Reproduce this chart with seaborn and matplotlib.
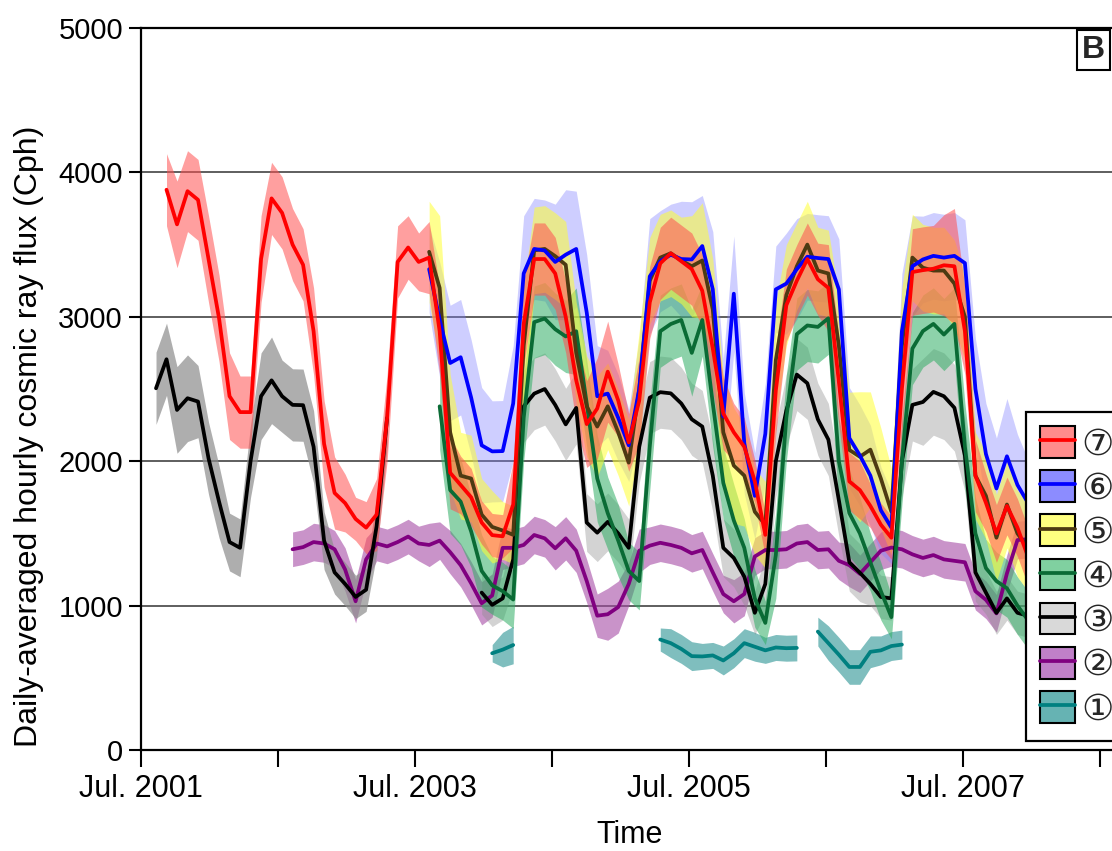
import numpy as np
import pandas as pd
import matplotlib
matplotlib.use("Agg")
import matplotlib.pyplot as plt
import matplotlib.dates as mdates
from matplotlib.patches import Patch
from matplotlib.lines import Line2D
from matplotlib.ticker import FuncFormatter
import seaborn as sns

# ---------------- data (4-weekly samples) ----------------
GRID_START = "2001-08-10"
STEP_DAYS = 28

# series 7 (red)
s7_start = 1
s7_vals = [3880, 3640, 3870, 3810, 3400, 2990, 2450, 2340, 2340, 3400,
           3820, 3720, 3500, 3360, 2900, 2120, 1780, 1710, 1600, 1540,
           1630, 2300, 3380, 3480, 3380, 3410, 2900, 1920, 1835, 1750,
           1575, 1488, 1480, 1700, 2950, 3400, 3400, 3300, 3000, 2560,
           2257, 2365, 2620, 2420, 2130, 2420, 3100, 3370, 3440, 3385,
           3330, 3180, 2780, 2330, 2200, 2100, 1860, 1490, 2490, 3080,
           3250, 3400, 3260, 3200, 2550, 1860, 1800, 1690, 1560, 1470,
           2500, 3310, 3323, 3333, 3357, 3350, 2900, 1900, 1712, 1500,
           1690, 1540, 1340, 1200]
s7_spread = [250, 300, 280, 280, 300, 300, 300, 250, 250, 300,
             250, 250, 250, 250, 300, 300, 250, 200, 150, 180,
             250, 300, 250, 220, 200, 250, 300, 250, 200, 200,
             150, 150, 150, 300, 300, 250, 250, 250, 250, 300,
             300, 350, 350, 250, 200, 300, 250, 250, 250, 250,
             250, 250, 300, 250, 200, 200, 150, 150, 300, 250,
             250, 250, 250, 300, 300, 200, 200, 150, 150, 150,
             300, 300, 300, 300, 350, 400, 300, 250, 200, 200,
             200, 200, 200, 200]

# series 6 (blue)
s6_start = 26
s6_vals = [3330, 2980, 2680, 2720, 2440, 2110, 2068, 2070, 2400, 3300,
           3470, 3459, 3380, 3430, 3470, 3030, 2450, 2468, 2300, 2110,
           2500, 3280, 3385, 3430, 3400, 3397, 3490, 3190, 2310, 3160,
           2124, 1760, 2190, 3190, 3230, 3330, 3416, 3407, 3400, 3190,
           2160, 2040, 1900, 1660, 1540, 2900, 3350, 3397, 3422, 3410,
           3422, 3372, 2500, 2050, 1811, 2034, 1836, 1712, 1680]
s6_spread = [300, 400, 400, 400, 400, 400, 350, 350, 400, 400,
             350, 350, 400, 450, 400, 400, 350, 300, 300, 250,
             350, 400, 350, 350, 400, 400, 350, 400, 400, 400,
             350, 300, 350, 300, 350, 350, 300, 300, 300, 350,
             350, 350, 350, 300, 250, 400, 350, 300, 300, 300,
             300, 300, 350, 350, 350, 400, 350, 300, 300]

# series 5 (yellow band, brown line)
s5_start = 26
s5_vals = [3450, 3200, 2200, 1900, 1880, 1630, 1545, 1520, 1490, 2800,
           3460, 3470, 3420, 3360, 2750, 2380, 2240, 2380, 2200, 1990,
           2500, 3250, 3410, 3440, 3390, 3350, 3390, 3050, 2200, 1970,
           1900, 1650, 1560, 2700, 3150, 3350, 3500, 3320, 3300, 2800,
           2078, 2031, 2080, 1880, 1650, 2800, 3410, 3340, 3320, 3320,
           3230, 3000, 1900, 1760, 1470, 1700, 1500, 1400, 1300]
s5_spread = [350, 500, 400, 300, 300, 250, 250, 200, 200, 400,
             300, 300, 300, 300, 350, 350, 350, 300, 300, 300,
             400, 300, 300, 300, 300, 350, 400, 350, 400, 400,
             350, 300, 300, 400, 350, 300, 300, 300, 300, 350,
             400, 450, 400, 350, 300, 400, 300, 300, 300, 300,
             300, 300, 300, 300, 300, 300, 300, 300, 300]

# series 4 (green)
s4_start = 27
s4_vals = [2380, 1800, 1720, 1513, 1240, 1140, 1100, 1042, 2300, 2963,
           2988, 2914, 2864, 2900, 2400, 1880, 1640, 1450, 1240, 1170,
           2100, 2900, 2950, 2978, 2750, 2978, 2400, 1850, 1590, 1400,
           1050, 880, 1350, 2300, 2880, 2940, 2930, 2990, 2000, 1640,
           1500, 1300, 1100, 920, 2000, 2780, 2901, 2951, 2877, 2951,
           2100, 1500, 1260, 1170, 1120, 1000, 900, 850]
s4_spread = [300, 300, 300, 250, 250, 200, 200, 200, 300, 250,
             250, 250, 250, 300, 300, 300, 250, 250, 200, 200,
             300, 250, 250, 250, 300, 250, 300, 250, 250, 200,
             200, 150, 300, 300, 250, 250, 250, 250, 300, 300,
             250, 200, 200, 150, 300, 250, 250, 250, 250, 250,
             300, 250, 200, 200, 200, 200, 200, 200]

# series 3 (black), two segments
s3a_start = 0
s3a_vals = [2505, 2706, 2355, 2436, 2413, 2020, 1720, 1440, 1400, 2000,
            2450, 2560, 2450, 2390, 2388, 2100, 1450, 1230, 1150, 1060,
            1110, 1550, 2300]
s3a_spread = [250, 250, 300, 300, 250, 250, 250, 200, 200, 250,
              300, 300, 250, 250, 250, 250, 200, 150, 150, 150,
              150, 200, 200]
s3b_start = 31
s3b_vals = [1090, 1005, 1050, 1320, 2380, 2468, 2500, 2390, 2255, 2369,
            1575, 1505, 1580, 1500, 1400, 2100, 2440, 2478, 2470, 2400,
            2290, 2240, 1900, 1400, 1330, 1200, 950, 1150, 2000, 2350,
            2600, 2540, 2290, 2150, 1730, 1300, 1228, 1150, 1060, 1050,
            2000, 2390, 2410, 2480, 2450, 2370, 2040, 1230, 1090, 950,
            1050, 950, 930, 930]
s3b_spread = [150, 150, 150, 200, 250, 250, 250, 250, 250, 250,
              200, 200, 200, 200, 200, 250, 250, 250, 250, 250,
              250, 250, 250, 200, 200, 200, 150, 200, 250, 250,
              250, 250, 250, 250, 250, 200, 200, 150, 150, 150,
              250, 250, 300, 300, 300, 300, 250, 200, 150, 150,
              150, 150, 150, 150]

# series 2 (purple)
s2_start = 13
s2_vals = [1390, 1405, 1440, 1430, 1390, 1250, 1030, 1320, 1430, 1410,
           1440, 1478, 1430, 1420, 1450, 1370, 1280, 1154, 1016, 1070,
           1400, 1400, 1420, 1489, 1466, 1397, 1466, 1380, 1170, 930,
           940, 990, 1150, 1380, 1415, 1435, 1420, 1400, 1362, 1385,
           1230, 1080, 1030, 1080, 1340, 1385, 1385, 1390, 1430, 1440,
           1385, 1390, 1310, 1280, 1220, 1300, 1380, 1402, 1390, 1355,
           1330, 1350, 1320, 1310, 1300, 1100, 1040, 946, 1223, 1454,
           1460, 1400]
s2_spread = [120, 120, 130, 130, 130, 150, 150, 150, 120, 120,
             120, 120, 120, 150, 130, 150, 150, 150, 150, 150,
             150, 130, 130, 130, 130, 150, 150, 150, 150, 150,
             180, 180, 150, 150, 130, 130, 130, 130, 130, 130,
             130, 130, 150, 150, 130, 130, 130, 130, 130, 130,
             130, 130, 130, 150, 130, 130, 130, 130, 130, 130,
             130, 130, 130, 130, 130, 130, 130, 130, 130, 130,
             130, 130]

# series 1 (teal), three segments
s1a_start = 32
s1a_vals = [670, 695, 727]
s1a_spread = [60, 120, 130]
s1b_start = 48
s1b_vals = [765, 740, 700, 650, 648, 655, 620, 670, 740, 715, 690, 710, 705, 707]
s1b_spread = [80, 100, 100, 100, 90, 90, 100, 100, 100, 100, 90, 90, 90, 90]
s1c_start = 63
s1c_vals = [820, 740, 660, 575, 575, 680, 690, 720, 730]
s1c_spread = [100, 120, 120, 120, 120, 110, 100, 100, 100]

labels = ["⑦", "⑥", "⑤", "④", "③", "②", "①"]
YTICKS = [0, 1000, 2000, 3000, 4000, 5000]

# ---------------- styling ----------------
sns.set_theme(style="white")
plt.rcParams["font.family"] = ["Liberation Sans", "DejaVu Sans"]

fig = plt.figure(figsize=(11.12, 8.51), dpi=100)
ax = fig.add_axes([141 / 1112, 101 / 851, 989 / 1112, 722 / 851])


def dates_for(start, n):
    return pd.Timestamp(GRID_START) + pd.to_timedelta((start + np.arange(n)) * STEP_DAYS, unit="D")


series = {
    # key: (segments as (start, values, spread, band alpha), line colour, band colour, legend swatch colour)
    "1": ([(s1a_start, s1a_vals, s1a_spread, 0.65), (s1b_start, s1b_vals, s1b_spread, 0.65),
           (s1c_start, s1c_vals, s1c_spread, 0.65)], "#008080", "#3a9c9c", "#66b3b3"),
    "2": ([(s2_start, s2_vals, s2_spread, 0.6)], "#800080", "#a64ca6", "#c080c8"),
    "3": ([(s3a_start, s3a_vals, s3a_spread, 0.7), (s3b_start, s3b_vals, s3b_spread, 0.38)],
          "#000000", "#8c8c8c", "#d9d9d9"),
    "6": ([(s6_start, s6_vals, s6_spread, 0.38)], "#0000ff", "#8080ff", "#8c8cff"),
    "4": ([(s4_start, s4_vals, s4_spread, 0.55)], "#0a6b35", "#2fae64", "#80d0a0"),
    "5": ([(s5_start, s5_vals, s5_spread, 0.55)], "#4d3a12", "#ffff33", "#ffff80"),
    "7": ([(s7_start, s7_vals, s7_spread, 0.55)], "#ff0000", "#ff5050", "#ff8c8c"),
}

# bands
for key, (segs, lc, bc, sc) in series.items():
    for start, vals, spread, ba in segs:
        d = dates_for(start, len(vals))
        v = np.array(vals, float)
        s = np.array(spread, float)
        ax.fill_between(d, v - s, v + s, color=bc, alpha=ba, lw=0, zorder=2)

# lines
line_order = ["1", "2", "3", "4", "5", "6", "7"]
for z, key in enumerate(line_order):
    segs, lc, bc, sc = series[key]
    for start, vals, spread, ba in segs:
        df = pd.DataFrame({"date": dates_for(start, len(vals)), "value": vals})
        sns.lineplot(data=df, x="date", y="value", ax=ax, color=lc, lw=2.7,
                     estimator=None, sort=True, zorder=5 + z)

ax.set_ylim(0, 5000)
ax.set_yticks(YTICKS)
ax.set_xlim(pd.Timestamp("2001-07-01"), pd.Timestamp("2008-09-18"))
ax.xaxis.set_major_locator(mdates.MonthLocator(bymonth=7))
ax.xaxis.set_major_formatter(FuncFormatter(
    lambda x, pos: ("Jul. %d" % mdates.num2date(x).year) if mdates.num2date(x).year % 2 == 1 else ""))

ax.yaxis.grid(True, color="#333333", lw=1.1)
ax.xaxis.grid(False)
ax.set_axisbelow(True)
for sp in ["left", "bottom", "top", "right"]:
    ax.spines[sp].set_color("black")
    ax.spines[sp].set_linewidth(1.6)

ax.tick_params(axis="x", direction="out", length=12, width=1.5, pad=5,
               labelsize=22, colors="black", bottom=True)
ax.tick_params(axis="y", direction="out", length=9, width=1.5, pad=4,
               labelsize=21, colors="black", left=True)

ax.set_xlabel("Time", fontsize=22, color="black")
ax.set_ylabel("Daily-averaged hourly cosmic ray flux (Cph)", fontsize=23, color="black")
ax.xaxis.set_label_coords((630 - 141) / 989, (750 - 820) / 722)
ax.yaxis.set_label_coords((44 - 141) / 989, (750 - 436) / 722)

ax.text((1082 - 141) / 989, (750 - 35) / 722, "B", transform=ax.transAxes,
        ha="left", va="top", fontsize=23, fontweight="bold", zorder=20,
        bbox=dict(boxstyle="square,pad=0.15", fc="white", ec="black", lw=1.5))

# legend: band swatch with line through it
handles = []
for key in ["7", "6", "5", "4", "3", "2", "1"]:
    segs, lc, bc, sc = series[key]
    handles.append((Patch(facecolor=sc, edgecolor="black", lw=1.5),
                    Line2D([], [], color=lc, lw=2.7)))
leg = ax.legend(handles, labels, loc="lower left",
                bbox_to_anchor=((1026 - 141) / 989, (750 - 741) / 722),
                frameon=True, fancybox=False, framealpha=1, edgecolor="black",
                fontsize=26, handlelength=0.97, handleheight=0.97,
                labelspacing=0.22, borderpad=0.38, handletextpad=0.18,
                borderaxespad=0)
leg.get_frame().set_linewidth(1.6)
leg.set_zorder(30)

fig.savefig("out.png", dpi=100)
